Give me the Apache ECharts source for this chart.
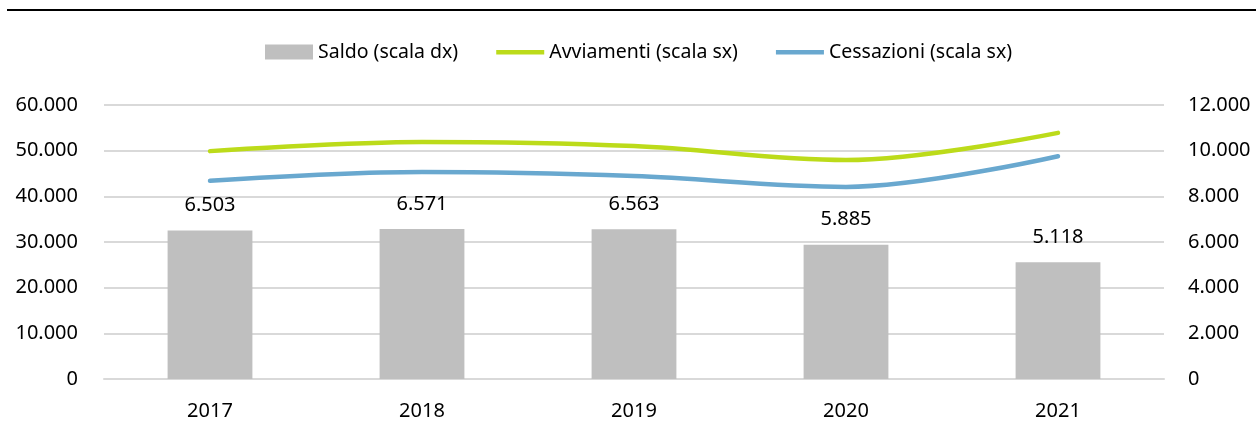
<!DOCTYPE html>
<html><head><meta charset="utf-8">
<script src="https://cdn.jsdelivr.net/npm/echarts@6/dist/echarts.min.js"></script>
<style>html,body{margin:0;padding:0;background:#fff}#c{width:1256px;height:423px}</style>
</head><body><div id="c"></div>
<script>
const categories = ['2017','2018','2019','2020','2021'];
const saldo = [6503, 6571, 6563, 5885, 5118];
const avviamenti = [49900, 51900, 51000, 47950, 53900];
const cessazioni = [43397, 45329, 44437, 42065, 48782];
const leftTicks = {min: 0, max: 60000, interval: 10000};
const rightTicks = {min: 0, max: 12000, interval: 2000};

function fmt(v){ return String(Math.round(v)).replace(/\B(?=(\d{3})+(?!\d))/g, '.'); }
const FONT = 'Noto Sans';
const LINE_ICON = 'path://M0,0L0.01,0M0,5.5L50,5.5L50,10L0,10ZM0,15L0.01,15';
const chart = echarts.init(document.getElementById('c'));
chart.setOption({
  animation: false,
  textStyle: {fontFamily: FONT},
  graphic: [{type:'line', shape:{x1:7,y1:10,x2:1256,y2:10}, style:{stroke:'#000', lineWidth:2}}],
  legend: {
    top: 37, left: 260, itemWidth: 48, itemHeight: 15, itemGap: 38,
    textStyle: {fontFamily: FONT, fontSize: 19.5, color: '#000'},
    data: [
      {name:'Saldo (scala dx)', icon:'rect'},
      {name:'Avviamenti (scala sx)', icon: LINE_ICON},
      {name:'Cessazioni (scala sx)', icon: LINE_ICON}
    ]
  },
  grid: {left: 104, right: 92, top: 105, bottom: 44},
  xAxis: {
    type: 'category', data: categories,
    axisLine: {lineStyle: {color: '#D9D9D9', width: 2}},
    axisTick: {show: false},
    axisLabel: {fontSize: 20, color: '#000', margin: 22, fontFamily: FONT}
  },
  yAxis: [
    {type:'value', ...leftTicks, position:'left',
     axisLine:{show:false}, axisTick:{show:false},
     splitLine:{lineStyle:{color:'#D9D9D9', width:2}},
     axisLabel:{fontSize:20, color:'#000', margin:26, formatter: fmt, fontFamily: FONT}},
    {type:'value', ...rightTicks, position:'right',
     axisLine:{show:false}, axisTick:{show:false}, splitLine:{show:false},
     axisLabel:{fontSize:20, color:'#000', margin:24, formatter: fmt, fontFamily: FONT}}
  ],
  series: [
    {name:'Saldo (scala dx)', type:'bar', yAxisIndex:1, data: saldo, barWidth:'40%',
     itemStyle:{color:'#BFBFBF'},
     label:{show:true, position:'top', distance:15, fontSize:20, color:'#000', fontFamily: FONT,
            formatter: p => fmt(p.value)}},
    {name:'Avviamenti (scala sx)', type:'line', yAxisIndex:0, data: avviamenti, smooth:0.35,
     symbol:'none', lineStyle:{color:'#BCDB1A', width:4.5, cap:'round'}, itemStyle:{color:'#BCDB1A'}},
    {name:'Cessazioni (scala sx)', type:'line', yAxisIndex:0, data: cessazioni, smooth:0.35,
     symbol:'none', lineStyle:{color:'#69A8CF', width:4.5, cap:'round'}, itemStyle:{color:'#69A8CF'}}
  ]
});
</script></body></html>
